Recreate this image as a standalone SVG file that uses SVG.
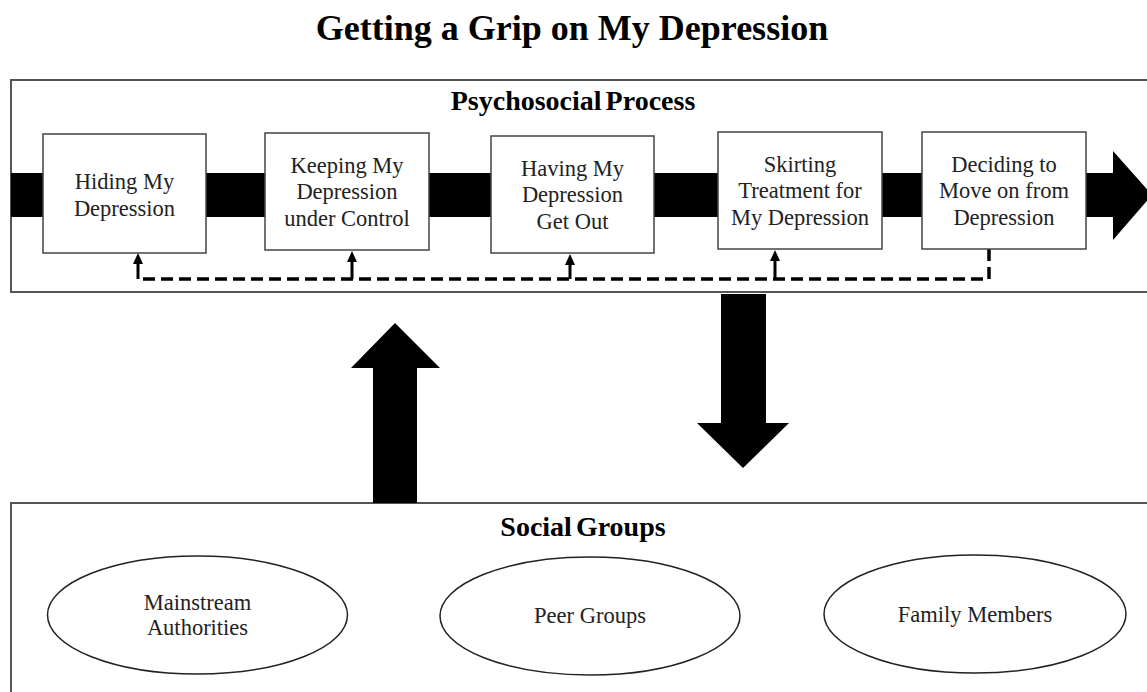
<svg xmlns="http://www.w3.org/2000/svg" width="1147" height="692" viewBox="0 0 1147 692">
<defs>
<style>
.frame{fill:#fff;stroke:#555;stroke-width:2}
.box{fill:#fff;stroke:#444;stroke-width:1.5}
.ell{fill:#fff;stroke:#222;stroke-width:1.5}
.t{font-family:"Liberation Serif","Times New Roman",serif;font-size:22.5px;fill:#222;text-anchor:middle}
.h{font-family:"Liberation Serif","Times New Roman",serif;font-weight:bold;fill:#000;text-anchor:middle}
.dash{fill:none;stroke:#000;stroke-width:3.5;stroke-dasharray:12 6}
.up{stroke:#000;stroke-width:3;fill:none}
</style>
</defs>
<rect width="1147" height="692" fill="#fff"/>
<text class="h" x="572" y="40" font-size="36">Getting a Grip on My Depression</text>

<g id="psychosocial-process">
<rect class="frame" x="11" y="80" width="1150" height="212"/>
<text class="h" x="573" y="110" font-size="28" word-spacing="-3">Psychosocial Process</text>
<rect x="11" y="173" width="1103" height="44" fill="#000"/>
<polygon points="1113,151 1152,195 1113,240" fill="#000"/>
</g>

<g id="social-groups">
<rect class="frame" x="11" y="503" width="1150" height="200"/>
<text class="h" x="583" y="536" font-size="28" word-spacing="-3">Social Groups</text>
</g>

<g id="connectors">
<polyline class="dash" points="989,249 989,279 138,279"/>
<line class="up" x1="138" y1="279" x2="138" y2="262"/>
<polygon points="133,264 138,253 143,264" fill="#000"/>
<line class="up" x1="352" y1="279" x2="352" y2="260"/>
<polygon points="347,262 352,251 357,262" fill="#000"/>
<line class="up" x1="570" y1="279" x2="570" y2="263"/>
<polygon points="565,265 570,254 575,265" fill="#000"/>
<line class="up" x1="775" y1="279" x2="775" y2="259"/>
<polygon points="770,261 775,250 780,261" fill="#000"/>
<polygon points="373,503 373,368 351,368 395,323 440,368 417,368 417,503" fill="#000"/>
<polygon points="721,294 766,294 766,423 789,423 743,468 697,423 721,423" fill="#000"/>
</g>

<g id="hiding">
<rect class="box" x="43" y="134" width="163" height="119"/>
<text class="t" x="124.5" y="189">Hiding My</text>
<text class="t" x="124.5" y="216">Depression</text>
</g>
<g id="keeping">
<rect class="box" x="265" y="133" width="164" height="117"/>
<text class="t" x="347" y="173">Keeping My</text>
<text class="t" x="347" y="199">Depression</text>
<text class="t" x="347" y="226">under Control</text>
</g>
<g id="having">
<rect class="box" x="491" y="136" width="163" height="117"/>
<text class="t" x="572.5" y="176">Having My</text>
<text class="t" x="572.5" y="202">Depression</text>
<text class="t" x="572.5" y="229">Get Out</text>
</g>
<g id="skirting">
<rect class="box" x="718" y="132" width="164" height="117"/>
<text class="t" x="800" y="172">Skirting</text>
<text class="t" x="800" y="198">Treatment for</text>
<text class="t" x="800" y="225">My Depression</text>
</g>
<g id="deciding">
<rect class="box" x="922" y="132" width="164" height="117"/>
<text class="t" x="1004" y="172">Deciding to</text>
<text class="t" x="1004" y="198">Move on from</text>
<text class="t" x="1004" y="225">Depression</text>
</g>

<g id="mainstream">
<ellipse class="ell" cx="197.5" cy="615" rx="150" ry="59"/>
<text class="t" x="197.5" y="610">Mainstream</text>
<text class="t" x="197.5" y="635">Authorities</text>
</g>
<g id="peer">
<ellipse class="ell" cx="590" cy="616" rx="150" ry="59"/>
<text class="t" x="590" y="623">Peer Groups</text>
</g>
<g id="family">
<ellipse class="ell" cx="975" cy="614" rx="151" ry="59"/>
<text class="t" x="975" y="622">Family Members</text>
</g>
</svg>
